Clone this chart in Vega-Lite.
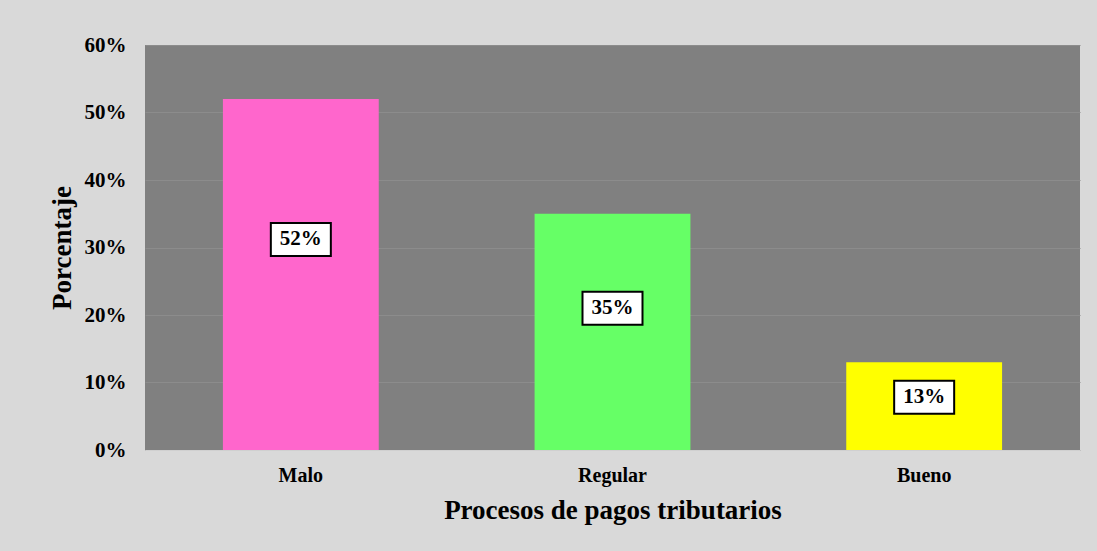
{
  "$schema": "https://vega.github.io/schema/vega-lite/v6.json",
  "width": 935,
  "height": 405,
  "autosize": {"type": "none"},
  "padding": {"left": 145, "top": 45, "right": 17, "bottom": 101},
  "background": "#d9d9d9",
  "data": {
    "values": [
      {"categoria": "Malo", "porcentaje": 0.52},
      {"categoria": "Regular", "porcentaje": 0.35},
      {"categoria": "Bueno", "porcentaje": 0.13}
    ]
  },
  "transform": [{"calculate": "datum.porcentaje * 0.6", "as": "pos_etiqueta"}],
  "encoding": {
    "x": {
      "field": "categoria",
      "type": "nominal",
      "sort": null,
      "scale": {"paddingInner": 0.5, "paddingOuter": 0.25},
      "axis": {
        "title": "Procesos de pagos tributarios",
        "labelAngle": 0,
        "labelFont": "Liberation Serif",
        "labelFontWeight": "bold",
        "labelFontSize": 20,
        "labelColor": "#000000",
        "labelPadding": 15,
        "ticks": false,
        "domain": true,
        "domainColor": "#d0d0d0",
        "domainWidth": 1,
        "titleFont": "Liberation Serif",
        "titleFontWeight": "bold",
        "titleFontSize": 27,
        "titleColor": "#000000",
        "titleBaseline": "alphabetic",
        "titleY": 68
      }
    }
  },
  "layer": [
    {
      "mark": {"type": "bar"},
      "encoding": {
        "y": {
          "field": "porcentaje",
          "type": "quantitative",
          "scale": {"domain": [0, 0.6], "nice": false},
          "axis": {
            "title": "Porcentaje",
            "values": [0, 0.1, 0.2, 0.3, 0.4, 0.5, 0.6],
            "format": ".0%",
            "labelFont": "Liberation Serif",
            "labelFontWeight": "bold",
            "labelFontSize": 21,
            "labelColor": "#000000",
            "labelPadding": 19,
            "ticks": false,
            "domain": false,
            "grid": true,
            "gridColor": "#8c8c8c",
            "gridWidth": 1,
            "titleFont": "Liberation Serif",
            "titleFontWeight": "bold",
            "titleFontSize": 27,
            "titleColor": "#000000",
            "titleAngle": -90,
            "titleBaseline": "alphabetic",
            "titleAlign": "center",
            "titleX": -75,
            "titleY": 202.5
          }
        },
        "color": {
          "field": "categoria",
          "type": "nominal",
          "scale": {"domain": ["Malo", "Regular", "Bueno"], "range": ["#ff66cc", "#66ff66", "#ffff00"]},
          "legend": null
        }
      }
    },
    {
      "mark": {
        "type": "point",
        "shape": "M-1,-0.55L1,-0.55L1,0.55L-1,0.55Z",
        "filled": true,
        "fill": "#ffffff",
        "stroke": "#000000",
        "strokeWidth": 2,
        "opacity": 1,
        "fillOpacity": 1,
        "strokeOpacity": 1,
        "size": 3600
      },
      "encoding": {
        "y": {"field": "pos_etiqueta", "type": "quantitative"}
      }
    },
    {
      "mark": {
        "type": "text",
        "font": "Liberation Serif",
        "fontWeight": "bold",
        "fontSize": 21,
        "baseline": "middle",
        "align": "center",
        "color": "#000000"
      },
      "encoding": {
        "y": {"field": "pos_etiqueta", "type": "quantitative"},
        "text": {"field": "porcentaje", "type": "quantitative", "format": ".0%"}
      }
    }
  ],
  "config": {
    "view": {"fill": "#808080", "stroke": null}
  }
}
